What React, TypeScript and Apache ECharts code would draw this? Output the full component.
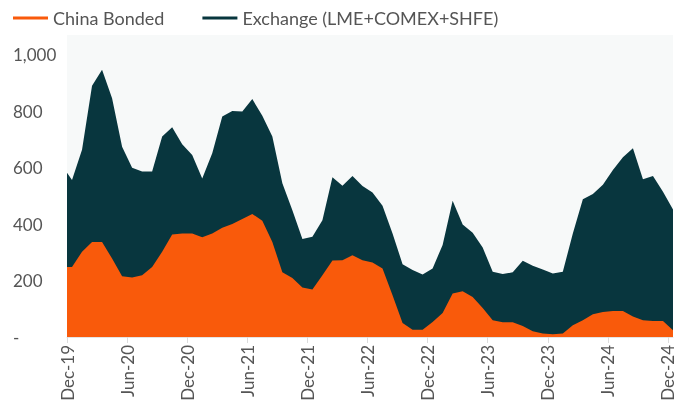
import React, { useEffect, useRef } from "react";
import * as echarts from "echarts";

// Tick labels every 6 months (month index 0 = Dec-19)
const tickLabels = [
  "Dec-19", "Jun-20", "Dec-20", "Jun-21", "Dec-21", "Jun-22",
  "Dec-22", "Jun-23", "Dec-23", "Jun-24", "Dec-24",
];

// Observations: first is the opening value at the axis start, then monthly (mid-month)
const chinaBonded = [
  248, 248, 302, 337, 337, 278, 215, 211, 219, 248, 302,
  363, 367, 367, 353, 367, 387, 400, 418, 436, 412, 337,
  229, 209, 175, 168, 219, 271, 272, 290, 272, 264, 243,
  148, 50, 26, 26, 53, 85, 154, 162, 142, 103, 59,
  52, 52, 39, 20, 12, 10, 12, 42, 59, 81, 89,
  92, 92, 73, 59, 57, 57, 24,
];

const exchange = [
  334, 308, 361, 553, 610, 568, 459, 389, 367, 338, 408,
  380, 316, 278, 209, 284, 394, 401, 381, 407, 372, 373,
  316, 240, 172, 187, 195, 295, 264, 280, 263, 248, 222,
  219, 208, 211, 195, 190, 241, 329, 237, 227, 214, 172,
  171, 177, 231, 232, 227, 215, 219, 325, 429, 426, 450,
  500, 545, 596, 500, 513, 458, 428,
];

const yTicks = [0, 200, 400, 600, 800, 1000];

const ORANGE = "#f95a0b";
const DARK = "#08363e";
const FONT = "Lato, 'Open Sans', sans-serif";

const monthOf = (i: number) => (i === 0 ? 0 : i - 0.5);

export default function App() {
  const ref = useRef<HTMLDivElement>(null);
  useEffect(() => {
    if (!ref.current) return;
    const chart = echarts.init(ref.current, undefined, { renderer: "svg" });
    const tickMonths = tickLabels.map((_, i) => i * 6);
    // stacked top edge = bonded + exchange
    const totals = chinaBonded.map((v, i) => v + exchange[i]);
    chart.setOption({
      animation: false,
      grid: {
        left: 67,
        right: 5,
        top: 35,
        bottom: 74,
        show: true,
        backgroundColor: "#f7f9f9",
        borderWidth: 0,
      },
      legend: {
        left: 8,
        top: 4,
        icon: "rect",
        itemWidth: 35,
        itemHeight: 3,
        itemGap: 38,
        textStyle: {
          fontFamily: FONT,
          fontSize: 18,
          color: "#555",
        },
        data: ["China Bonded", "Exchange (LME+COMEX+SHFE)"],
      },
      xAxis: {
        type: "value",
        min: 0,
        max: 60.5,
        interval: 6,
        splitLine: { show: false },
        axisLine: { show: true, lineStyle: { color: "#e4e4e4" } },
        axisTick: {
          show: true,
          length: 6,
          customValues: tickMonths,
          lineStyle: { color: "#dcdcdc" },
        },
        axisLabel: {
          customValues: tickMonths,
          rotate: 90,
          margin: 8,
          fontFamily: FONT,
          fontSize: 17,
          color: "#555",
          formatter: (v: number) => tickLabels[Math.round(v / 6)] ?? "",
        },
      },
      yAxis: {
        type: "value",
        min: 0,
        max: 1070,
        interval: 200,
        splitLine: { show: false },
        axisLine: { show: false },
        axisTick: { show: false },
        axisLabel: {
          customValues: yTicks,
          align: "left",
          margin: 54,
          fontFamily: FONT,
          fontSize: 17,
          color: "#555",
          formatter: (v: number) => (v === 0 ? "-" : v.toLocaleString("en-US")),
        },
      },
      series: [
        {
          name: "Exchange (LME+COMEX+SHFE)",
          type: "line",
          showSymbol: false,
          symbol: "none",
          lineStyle: { width: 0 },
          itemStyle: { color: DARK },
          areaStyle: { color: DARK, opacity: 1 },
          data: totals.map((v, i) => [monthOf(i), v]),
        },
        {
          name: "China Bonded",
          type: "line",
          showSymbol: false,
          symbol: "none",
          lineStyle: { width: 0 },
          itemStyle: { color: ORANGE },
          areaStyle: { color: ORANGE, opacity: 1 },
          data: chinaBonded.map((v, i) => [monthOf(i), v]),
        },
      ],
    });
    return () => chart.dispose();
  }, []);
  return <div ref={ref} style={{ width: 678, height: 411, position: "fixed", left: 0, top: 0 }} />;
}
